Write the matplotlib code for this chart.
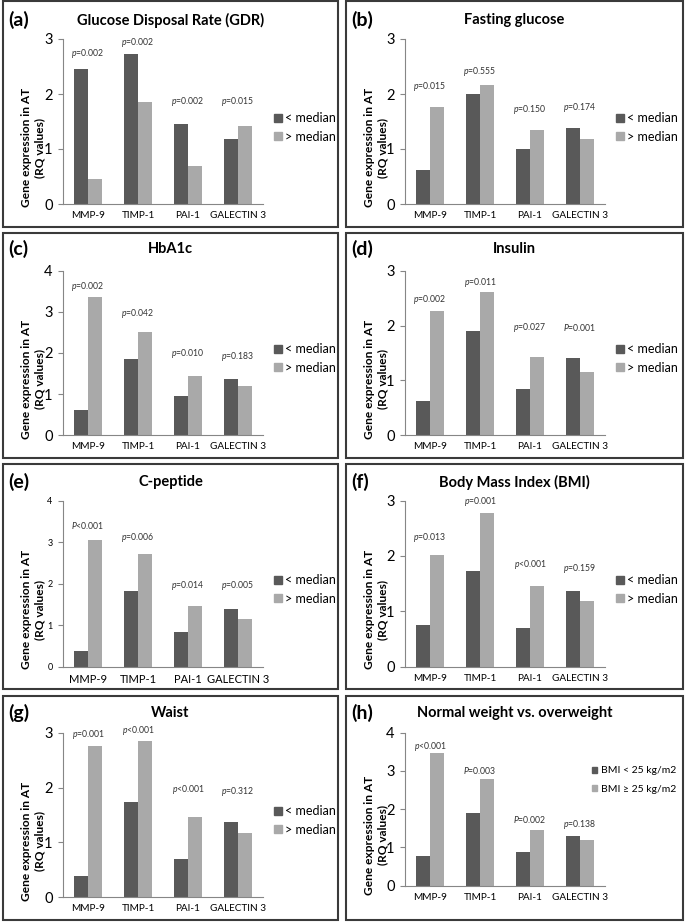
import matplotlib.pyplot as plt
from matplotlib.patches import Patch, Rectangle

plt.rcParams["font.family"] = ["Lato", "DejaVu Sans"]
plt.rcParams["mathtext.fontset"] = "custom"
plt.rcParams["mathtext.it"] = "Lato:italic"
plt.rcParams["mathtext.rm"] = "Lato"

W, H = 685, 923

genes = ["MMP-9", "TIMP-1", "PAI-1", "GALECTIN 3"]

# (a) GDR
gdr_low = [2.45, 2.72, 1.45, 1.18]
gdr_high = [0.46, 1.85, 0.70, 1.41]
gdr_p = ["p=0.002", "p=0.002", "p=0.002", "p=0.015"]
gdr_p_y = [2.73, 2.93, 1.87, 1.87]

# (b) fasting glucose
glu_low = [0.62, 2.00, 1.00, 1.38]
glu_high = [1.76, 2.17, 1.34, 1.19]
glu_p = ["p=0.015", "p=0.555", "p=0.150", "p=0.174"]
glu_p_y = [2.13, 2.41, 1.71, 1.76]

# (c) HbA1c
hba_low = [0.62, 1.85, 0.96, 1.38]
hba_high = [3.35, 2.50, 1.45, 1.20]
hba_p = ["p=0.002", "p=0.042", "p=0.010", "p=0.183"]
hba_p_y = [3.62, 2.95, 1.98, 1.92]

# (d) insulin
ins_low = [0.62, 1.91, 0.85, 1.41]
ins_high = [2.27, 2.61, 1.43, 1.15]
ins_p = ["p=0.002", "p=0.011", "p=0.027", "P=0.001"]
ins_p_y = [2.48, 2.79, 1.96, 1.96]

# (e) C-peptide
cpep_low = [0.38, 1.82, 0.84, 1.40]
cpep_high = [3.05, 2.72, 1.45, 1.16]
cpep_p = ["P<0.001", "p=0.006", "p=0.014", "p=0.005"]
cpep_p_y = [3.40, 3.10, 1.96, 1.96]

# (f) BMI
bmi_low = [0.75, 1.73, 0.69, 1.37]
bmi_high = [2.02, 2.77, 1.46, 1.19]
bmi_p = ["p=0.013", "p=0.001", "p<0.001", "p=0.159"]
bmi_p_y = [2.34, 2.98, 1.84, 1.78]

# (g) waist
waist_low = [0.38, 1.73, 0.69, 1.37]
waist_high = [2.76, 2.85, 1.46, 1.18]
waist_p = ["p=0.001", "p<0.001", "p<0.001", "p=0.312"]
waist_p_y = [2.97, 3.04, 1.97, 1.92]

# (h) normal weight vs overweight
ow_low = [0.78, 1.89, 0.89, 1.31]
ow_high = [3.46, 2.78, 1.46, 1.19]
ow_p = ["p<0.001", "P=0.003", "P=0.002", "p=0.138"]
ow_p_y = [3.65, 3.00, 1.73, 1.60]

median_labels = ["< median", "> median"]
bmi_labels = ["BMI < 25 kg/m2", "BMI \u2265 25 kg/m2"]

panels = [
    ("(a)", "Glucose Disposal Rate (GDR)", gdr_low, gdr_high, gdr_p, gdr_p_y, 3, median_labels),
    ("(b)", "Fasting glucose", glu_low, glu_high, glu_p, glu_p_y, 3, median_labels),
    ("(c)", "HbA1c", hba_low, hba_high, hba_p, hba_p_y, 4, median_labels),
    ("(d)", "Insulin", ins_low, ins_high, ins_p, ins_p_y, 3, median_labels),
    ("(e)", "C-peptide", cpep_low, cpep_high, cpep_p, cpep_p_y, 4, median_labels),
    ("(f)", "Body Mass Index (BMI)", bmi_low, bmi_high, bmi_p, bmi_p_y, 3, median_labels),
    ("(g)", "Waist", waist_low, waist_high, waist_p, waist_p_y, 3, median_labels),
    ("(h)", "Normal weight vs. overweight", ow_low, ow_high, ow_p, ow_p_y, 4, bmi_labels),
]

DARK = "#595959"
LIGHT = "#a9a9a9"
AXIS = "#868686"

# layout in pixels
box_x = [(3, 338), (346, 683)]
box_y = [(1, 227), (233, 458), (464, 689), (696, 920)]
ax_left = [63, 405]
ax_w = 200
ax_y = [(39, 204), (39, 204), (270.7, 435.3), (270.7, 435.3),
        (500.5, 666.7), (500.5, 666.7), (732.7, 897.3), (732.7, 885.7)]
title_y = [20, 249, 482, 713]
legend_y = [127.5, 358.5, 589.5, 820.5]


def fx(px):
    return px / W


def fy(py):
    return 1 - py / H


fig = plt.figure(figsize=(W / 100, H / 100), dpi=100)

for i, (tag, title, low, high, pvals, py, ymax, labels) in enumerate(panels):
    col, row = i % 2, i // 2
    bx0, bx1 = box_x[col]
    by0, by1 = box_y[row]
    fig.patches.append(Rectangle((fx(bx0), fy(by1)), fx(bx1 - bx0), (by1 - by0) / H,
                                 transform=fig.transFigure, fill=False,
                                 edgecolor="#3a3a3a", linewidth=1.5))

    top, zero = ax_y[i]
    ax = fig.add_axes([fx(ax_left[col]), fy(zero), fx(ax_w), (zero - top) / H])
    x = range(len(genes))
    w = 0.28
    ax.bar([k - w / 2 for k in x], low, w, color=DARK)
    ax.bar([k + w / 2 for k in x], high, w, color=LIGHT)
    ax.set_xlim(-0.5, 3.5)
    ax.set_ylim(0, ymax)
    ax.set_yticks(range(ymax + 1))
    ax.set_xticks(list(x))
    ax.set_xticklabels(genes, fontsize=8 if tag == "(e)" else 7.2)
    ax.tick_params(axis="x", length=0, pad=5)
    ax.tick_params(axis="y", length=3.5, color=AXIS, pad=4,
                   labelsize=6.5 if tag == "(e)" else 10.5)
    for s in ["top", "right"]:
        ax.spines[s].set_visible(False)
    for s in ["left", "bottom"]:
        ax.spines[s].set_color(AXIS)
        ax.spines[s].set_linewidth(0.8)

    for k, (txt, yy) in enumerate(zip(pvals, py)):
        ax.text(k, yy, r"$\mathit{%s}$%s" % (txt[0], txt[1:]), ha="center", va="center",
                fontsize=6.2, color="#333333")

    cx = (bx0 + bx1) / 2
    fig.text(fx(cx), fy(title_y[row]), title, ha="center", va="center",
             fontsize=10.5, fontweight="bold")
    fig.text(fx(bx0 + 5), fy(title_y[row]), tag, ha="left", va="center",
             fontsize=14, fontweight="bold")
    fig.text(fx(bx0 + 30), fy((top + zero) / 2 + 26), "Gene expression in AT\n(RQ values)",
             rotation=90, ha="center", va="center", multialignment="center",
             fontsize=8.6, fontweight="bold", linespacing=1.2)

    handles = [Patch(color=DARK), Patch(color=LIGHT)]
    if tag == "(h)":
        ax.legend(handles, labels, loc="center left",
                  bbox_to_anchor=(fx(592), fy(780)), bbox_transform=fig.transFigure,
                  frameon=False, fontsize=7.5, handlelength=0.5, handleheight=0.5,
                  handletextpad=0.4, labelspacing=0.9, borderpad=0, borderaxespad=0)
    else:
        ax.legend(handles, labels, loc="center left",
                  bbox_to_anchor=(fx(ax_left[col] + ax_w + 11), fy(legend_y[row])),
                  bbox_transform=fig.transFigure,
                  frameon=False, fontsize=9, handlelength=0.6, handleheight=0.6,
                  handletextpad=0.3, labelspacing=0.5, borderpad=0, borderaxespad=0)

fig.savefig("out.png", dpi=100)
